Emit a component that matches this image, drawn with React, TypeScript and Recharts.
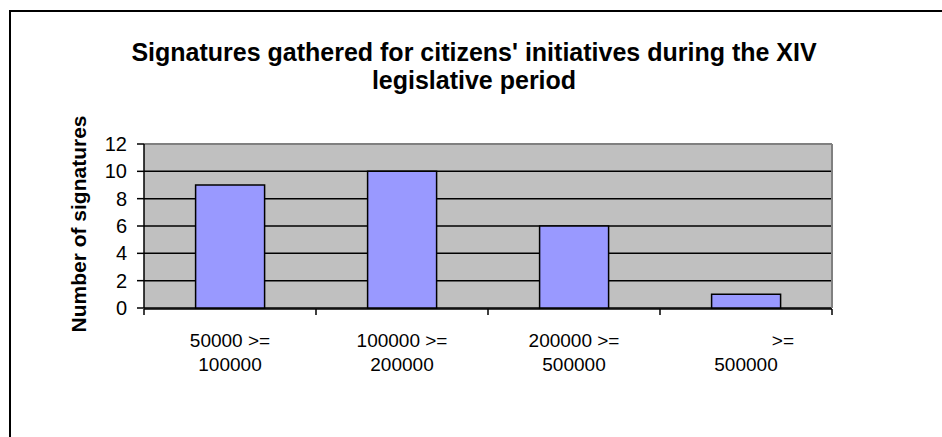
import { BarChart, Bar, XAxis, YAxis, CartesianGrid, ReferenceLine } from 'recharts';

const categories = ['50000 >= 100000', '100000 >= 200000', '200000 >= 500000', '>= 500000'];
// how each category label wraps onto two lines (last one is pushed right by spaces, as in the source)
const categoryLines = [
  ['50000 >=', '100000'],
  ['100000 >=', '200000'],
  ['200000 >=', '500000'],
  ['\u00a0\u00a0\u00a0\u00a0\u00a0\u00a0\u00a0\u00a0\u00a0\u00a0\u00a0\u00a0\u00a0\u00a0>=', '500000'],
];
const signatures = [9, 10, 6, 1];
const yTicks = [0, 2, 4, 6, 8, 10, 12];
const edgeTicks = [0, 1, 2, 3, 4];

const FONT = '"Liberation Sans", Arial, sans-serif';

const data = categories.map((name, i) => ({ name, value: signatures[i], idx: i }));

function CategoryTick(props: any) {
  const { x, y, payload, index } = props;
  const lines = categoryLines[index ?? payload.index] || [payload.value];
  return (
    <g>
      {lines.map((line: string, i: number) => (
        <text
          key={i}
          x={x}
          y={y + 39 + i * 24}
          textAnchor="middle"
          fill="#000"
          fontSize={19}
          fontFamily={FONT}
        >
          {line}
        </text>
      ))}
    </g>
  );
}

export default function App() {
  return (
    <div
      style={{
        position: 'absolute',
        left: 0,
        top: 0,
        width: 942,
        height: 437,
        overflow: 'hidden',
        background: '#fff',
        fontFamily: FONT,
      }}
    >
      <div
        style={{
          position: 'absolute',
          left: 9,
          top: 10,
          width: 1000,
          height: 1000,
          borderLeft: '2px solid #000',
          borderTop: '2px solid #000',
        }}
      />
      <div
        style={{
          position: 'absolute',
          left: 114,
          top: 38,
          width: 720,
          textAlign: 'center',
          fontWeight: 'bold',
          fontSize: 25,
          lineHeight: '28px',
          color: '#000',
        }}
      >
        Signatures gathered for citizens' initiatives during the XIV legislative period
      </div>
      <div
        style={{
          position: 'absolute',
          left: 79,
          top: 224,
          transform: 'translate(-50%, -50%) rotate(-90deg)',
          whiteSpace: 'nowrap',
          fontWeight: 'bold',
          fontSize: 21,
          color: '#000',
        }}
      >
        Number of signatures
      </div>
      <div style={{ position: 'absolute', left: 0, top: 0 }}>
        <BarChart
          width={942}
          height={437}
          data={data}
          margin={{ top: 144, right: 110, bottom: 127, left: 0 }}
          barCategoryGap="30%"
        >
          <CartesianGrid vertical={false} stroke="#000" strokeWidth={1.5} fill="#C0C0C0" fillOpacity={1} />
          <XAxis
            xAxisId="edge"
            type="number"
            dataKey="idx"
            domain={[0, 4]}
            ticks={edgeTicks}
            height={1}
            tickSize={6}
            tickFormatter={() => ''}
            axisLine={{ stroke: '#000', strokeWidth: 1.5 }}
            tickLine={{ stroke: '#000', strokeWidth: 1.5 }}
          />
          <XAxis
            xAxisId="cat"
            dataKey="name"
            height={1}
            tickSize={0}
            tickMargin={0}
            axisLine={false}
            tickLine={false}
            interval={0}
            tick={<CategoryTick />}
          />
          <YAxis
            width={144}
            domain={[0, 12]}
            ticks={yTicks}
            interval={0}
            tickSize={7}
            tickMargin={10}
            axisLine={{ stroke: '#000', strokeWidth: 1.5 }}
            tickLine={{ stroke: '#000', strokeWidth: 1.5 }}
            tick={{ fill: '#000', fontSize: 20, fontFamily: FONT }}
          />
          <ReferenceLine xAxisId="edge" y={12} stroke="#808080" strokeWidth={2} />
          <ReferenceLine xAxisId="edge" x={4} stroke="#808080" strokeWidth={2} />
          <Bar
            xAxisId="cat"
            dataKey="value"
            fill="#9999FF"
            stroke="#000"
            strokeWidth={1.5}
            isAnimationActive={false}
          />
        </BarChart>
      </div>
    </div>
  );
}
